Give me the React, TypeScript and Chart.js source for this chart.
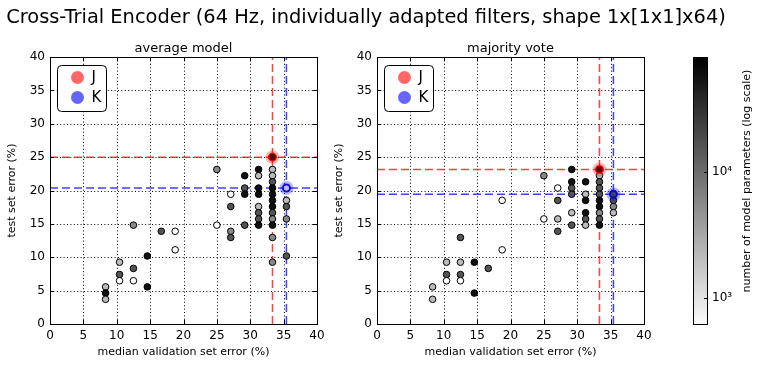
import React, { useEffect, useRef } from "react";
import { Chart, registerables } from "chart.js";

Chart.register(...registerables);

const FONT = "'DejaVu Sans', 'Liberation Sans', sans-serif";

const mainTitle = "Cross-Trial Encoder (64 Hz, individually adapted filters, shape 1x[1x1]x64)";
const xTitle = "median validation set error (%)";
const yTitle = "test set error (%)";
const colorbarTitle = "number of model parameters (log scale)";

const xTicks = [0, 5, 10, 15, 20, 25, 30, 35, 40];
const yTicks = [0, 5, 10, 15, 20, 25, 30, 35, 40];
const colorbarTicks = [1000, 10000];
const colorbarTickLabels = ["10\u00b3", "10\u2074"];
const paramRange = [611, 80900];

// ---- average model ----
const avgVal = [
  12.5, 16.67, 18.75, 18.75, 14.58, 10.42, 12.5, 10.42, 10.42, 12.5, 14.58, 8.33, 8.33, 8.33,
  25, 25, 27.08, 27.08, 27.08, 27.08, 29.17, 29.17, 29.17, 29.17,
  31.25, 31.25, 31.25, 31.25, 31.25, 31.25, 31.25, 31.25,
  33.33, 33.33, 33.33, 33.33, 33.33, 33.33, 33.33, 33.33, 33.33, 33.33, 33.33, 33.33, 33.33,
  35.42, 35.42, 35.42, 35.42, 35.42,
];
const avgErr = [
  14.81, 13.89, 13.89, 11.11, 10.19, 9.26, 8.33, 7.41, 6.48, 6.48, 5.56, 5.56, 4.63, 3.7,
  23.15, 14.81, 19.44, 17.59, 13.89, 12.96, 22.22, 20.37, 19.44, 14.81,
  23.15, 22.22, 20.37, 19.44, 17.59, 16.67, 15.74, 14.81,
  25.0, 23.15, 22.22, 21.3, 20.37, 19.44, 18.52, 17.59, 16.67, 15.74, 14.81, 12.96, 9.26,
  20.37, 18.52, 17.59, 15.74, 10.19,
];
const avgParams = [
  6000, 16000, 600, 600, 60000, 2200, 16000, 16000, 600, 600, 60000, 2200, 60000, 2200,
  6000, 600, 600, 16000, 6000, 16000, 60000, 16000, 60000, 16000,
  60000, 2200, 60000, 60000, 2200, 16000, 16000, 60000,
  60000, 2200, 2200, 16000, 60000, 60000, 60000, 60000, 16000, 6000, 60000, 6000, 6000,
  600, 2200, 16000, 6000, 16000,
];
const avgJ = [33.33, 25.0];
const avgK = [35.42, 20.37];

// ---- majority vote ----
const voteVal = [
  18.75, 18.75, 12.5, 10.42, 12.5, 14.58, 16.67, 10.42, 12.5, 10.42, 12.5, 8.33, 14.58, 8.33,
  25, 25, 27.08, 27.08, 27.08, 27.08,
  29.17, 29.17, 29.17, 29.17, 29.17, 29.17,
  31.25, 31.25, 31.25, 31.25, 31.25, 31.25,
  33.33, 33.33, 33.33, 33.33, 33.33, 33.33, 33.33, 33.33, 33.33, 33.33,
  35.42, 35.42, 35.42, 35.42,
];
const voteErr = [
  18.52, 11.11, 12.96, 9.26, 9.26, 9.26, 8.33, 7.41, 7.41, 6.48, 6.48, 5.56, 4.63, 3.7,
  22.22, 15.74, 20.37, 18.52, 15.74, 13.89,
  23.15, 21.3, 20.37, 19.44, 16.67, 14.81,
  21.3, 19.44, 18.52, 16.67, 15.74, 14.81,
  23.15, 22.22, 21.3, 20.37, 19.44, 18.52, 17.59, 16.67, 15.74, 14.81,
  19.44, 18.52, 17.59, 16.67,
];
const voteParams = [
  600, 600, 16000, 2200, 2200, 60000, 16000, 16000, 16000, 600, 600, 2200, 60000, 2200,
  6000, 600, 600, 16000, 2200, 16000,
  60000, 60000, 16000, 16000, 2200, 16000,
  60000, 2200, 60000, 60000, 16000, 2200,
  60000, 2200, 16000, 16000, 16000, 60000, 60000, 6000, 16000, 60000,
  16000, 16000, 6000, 2200,
];
const voteJ = [33.33, 23.15];
const voteK = [35.42, 19.44];

function grayFor(p: number): string {
  const lo = Math.log10(paramRange[0]);
  const hi = Math.log10(paramRange[1]);
  let f = (Math.log10(p) - lo) / (hi - lo);
  f = Math.max(0, Math.min(1, f));
  const g = Math.round(255 * (1 - f));
  return `rgb(${g},${g},${g})`;
}

function decorPlugin(title: string) {
  return {
    id: "decor",
    beforeDatasetsDraw(chart: any) {
      const { ctx, chartArea: a, scales } = chart;
      const x = scales.x;
      const y = scales.y;
      ctx.save();
      ctx.strokeStyle = "#000";
      ctx.lineWidth = 1;
      ctx.setLineDash([1, 2.4]);
      for (const v of xTicks) {
        if (v === xTicks[0] || v === xTicks[xTicks.length - 1]) continue;
        const px = Math.round(x.getPixelForValue(v)) + 0.5;
        ctx.beginPath();
        ctx.moveTo(px, a.top);
        ctx.lineTo(px, a.bottom);
        ctx.stroke();
      }
      for (const v of yTicks) {
        if (v === yTicks[0] || v === yTicks[yTicks.length - 1]) continue;
        const py = Math.round(y.getPixelForValue(v)) + 0.5;
        ctx.beginPath();
        ctx.moveTo(a.left, py);
        ctx.lineTo(a.right, py);
        ctx.stroke();
      }
      ctx.restore();
    },
    afterDatasetsDraw(chart: any) {
      const { ctx, chartArea: a, scales } = chart;
      const x = scales.x;
      const y = scales.y;
      ctx.save();
      ctx.setLineDash([]);
      ctx.strokeStyle = "#000";
      ctx.lineWidth = 1;
      const tl = 4;
      for (const v of xTicks) {
        const px = Math.round(x.getPixelForValue(v)) + 0.5;
        ctx.beginPath();
        ctx.moveTo(px, a.bottom);
        ctx.lineTo(px, a.bottom - tl);
        ctx.moveTo(px, a.top);
        ctx.lineTo(px, a.top + tl);
        ctx.stroke();
      }
      for (const v of yTicks) {
        const py = Math.round(y.getPixelForValue(v)) + 0.5;
        ctx.beginPath();
        ctx.moveTo(a.left, py);
        ctx.lineTo(a.left + tl, py);
        ctx.moveTo(a.right, py);
        ctx.lineTo(a.right - tl, py);
        ctx.stroke();
      }
      ctx.strokeRect(Math.round(a.left) + 0.5, Math.round(a.top) + 0.5, Math.round(a.right - a.left), Math.round(a.bottom - a.top));
      // legend
      const bx = a.left + 7.5;
      const by = a.top + 8.5;
      ctx.beginPath();
      (ctx as any).roundRect(bx, by, 49, 46, 4);
      ctx.fillStyle = "#fff";
      ctx.fill();
      ctx.stroke();
      const items: [string, string, number][] = [
        ["J", "rgba(255,0,0,0.6)", by + 12],
        ["K", "rgba(0,0,255,0.6)", by + 32],
      ];
      ctx.font = `15px ${FONT}`;
      ctx.textBaseline = "middle";
      ctx.textAlign = "left";
      for (const [label, color, cy] of items) {
        ctx.beginPath();
        ctx.arc(bx + 20, cy, 6.5, 0, Math.PI * 2);
        ctx.fillStyle = color;
        ctx.fill();
        ctx.fillStyle = "#000";
        ctx.fillText(label, bx + 34, cy + 1);
      }
      ctx.font = `13px ${FONT}`;
      ctx.textAlign = "center";
      ctx.textBaseline = "alphabetic";
      ctx.fillStyle = "#000";
      ctx.fillText(title, (a.left + a.right) / 2, a.top - 5);
      ctx.restore();
    },
  };
}

function refLine(x0: number, y0: number, x1: number, y1: number, color: string) {
  return {
    type: "line" as const,
    data: [
      { x: x0, y: y0 },
      { x: x1, y: y1 },
    ],
    borderColor: color,
    borderWidth: 1.5,
    borderDash: [8, 4],
    pointRadius: 0,
    fill: false,
    order: 10,
  };
}

function scatterConfig(val: number[], err: number[], params: number[], J: number[], K: number[], title: string): any {
  const red = "rgba(255,0,0,0.75)";
  const blue = "rgba(0,0,255,0.75)";
  return {
    type: "scatter",
    data: {
      datasets: [
        refLine(xTicks[0], J[1], xTicks[xTicks.length - 1], J[1], red),
        refLine(J[0], yTicks[0], J[0], yTicks[yTicks.length - 1], red),
        refLine(xTicks[0], K[1], xTicks[xTicks.length - 1], K[1], blue),
        refLine(K[0], yTicks[0], K[0], yTicks[yTicks.length - 1], blue),
        {
          type: "scatter",
          data: val.map((v, i) => ({ x: v, y: err[i] })),
          pointBackgroundColor: params.map(grayFor),
          pointBorderColor: "#000",
          pointBorderWidth: 1,
          pointRadius: 3.3,
          order: 3,
        },
        {
          type: "scatter",
          data: [{ x: J[0], y: J[1] }],
          pointBackgroundColor: "rgba(255,0,0,0.28)",
          pointBorderWidth: 0,
          pointRadius: 7,
          order: 2,
        },
        {
          type: "scatter",
          data: [{ x: K[0], y: K[1] }],
          pointBackgroundColor: "rgba(0,0,255,0.28)",
          pointBorderWidth: 0,
          pointRadius: 7,
          order: 2,
        },
        {
          type: "scatter",
          data: [{ x: J[0], y: J[1] }],
          pointBackgroundColor: "rgba(0,0,0,0)",
          pointBorderColor: "rgba(255,0,0,0.9)",
          pointBorderWidth: 1.5,
          pointRadius: 3.8,
          order: 1,
        },
        {
          type: "scatter",
          data: [{ x: K[0], y: K[1] }],
          pointBackgroundColor: "rgba(0,0,0,0)",
          pointBorderColor: "rgba(0,0,255,0.9)",
          pointBorderWidth: 1.5,
          pointRadius: 3.8,
          order: 1,
        },
      ],
    },
    options: {
      responsive: false,
      animation: false,
      devicePixelRatio: 1,
      layout: { padding: { left: 0, right: 13, top: 57, bottom: 0 } },
      plugins: { legend: { display: false }, tooltip: { enabled: false }, title: { display: false } },
      scales: {
        x: {
          type: "linear",
          min: xTicks[0],
          max: xTicks[xTicks.length - 1],
          afterBuildTicks: (s: any) => {
            s.ticks = xTicks.map((v) => ({ value: v }));
          },
          afterFit: (s: any) => {
            s.height = 43;
          },
          ticks: { font: { family: FONT, size: 12 }, color: "#000", padding: 5, maxRotation: 0, autoSkip: false },
          grid: { display: false, drawTicks: false },
          border: { display: false },
          title: { display: true, text: xTitle, font: { family: FONT, size: 11 }, color: "#000", padding: { top: 0, bottom: 8 } },
        },
        y: {
          type: "linear",
          min: yTicks[0],
          max: yTicks[yTicks.length - 1],
          afterBuildTicks: (s: any) => {
            s.ticks = yTicks.map((v) => ({ value: v }));
          },
          afterFit: (s: any) => {
            s.width = 50;
          },
          ticks: { font: { family: FONT, size: 12 }, color: "#000", padding: 5, autoSkip: false },
          grid: { display: false, drawTicks: false },
          border: { display: false },
          title: { display: true, text: yTitle, font: { family: FONT, size: 11 }, color: "#000", padding: { top: 6, bottom: 0 } },
        },
      },
    },
    plugins: [decorPlugin(title)],
  };
}

function colorbarConfig(): any {
  return {
    type: "bar",
    data: {
      labels: ["params"],
      datasets: [
        {
          data: [[paramRange[0], paramRange[1]]],
          backgroundColor: (c: any) => {
            const chart = c.chart;
            const a = chart.chartArea;
            if (!a) return "#888";
            const g = chart.ctx.createLinearGradient(0, a.bottom, 0, a.top);
            g.addColorStop(0, "#fcfcfc");
            g.addColorStop(1, "#000000");
            return g;
          },
          borderWidth: 0,
          barPercentage: 1,
          categoryPercentage: 1,
        },
      ],
    },
    options: {
      responsive: false,
      animation: false,
      devicePixelRatio: 1,
      layout: { padding: { left: 33, right: 0, top: 57, bottom: 42 } },
      plugins: { legend: { display: false }, tooltip: { enabled: false } },
      scales: {
        x: { display: false },
        y: {
          type: "logarithmic",
          position: "right",
          min: paramRange[0],
          max: paramRange[1],
          afterBuildTicks: (s: any) => {
            s.ticks = colorbarTicks.map((v) => ({ value: v }));
          },
          afterFit: (s: any) => {
            s.width = 54;
          },
          ticks: {
            font: { family: FONT, size: 12 },
            color: "#000",
            padding: 4,
            callback: (v: number) => colorbarTickLabels[colorbarTicks.indexOf(v)] ?? "",
          },
          grid: { display: false, drawTicks: false },
          border: { display: false },
        },
      },
    },
    plugins: [
      {
        id: "cbdecor",
        afterDatasetsDraw(chart: any) {
          const { ctx, chartArea: a, scales } = chart;
          ctx.save();
          ctx.strokeStyle = "#000";
          ctx.lineWidth = 1;
          ctx.strokeRect(Math.round(a.left) + 0.5, Math.round(a.top) + 0.5, Math.round(a.right - a.left) - 1, Math.round(a.bottom - a.top) - 1);
          for (const v of colorbarTicks) {
            const py = Math.round(scales.y.getPixelForValue(v)) + 0.5;
            ctx.beginPath();
            ctx.moveTo(a.right - 4, py);
            ctx.lineTo(a.right, py);
            ctx.stroke();
          }
          ctx.translate(a.right + 39, 181);
          ctx.rotate(-Math.PI / 2);
          ctx.font = `11px ${FONT}`;
          ctx.fillStyle = "#000";
          ctx.textAlign = "center";
          ctx.textBaseline = "middle";
          ctx.fillText(colorbarTitle, 0, 0);
          ctx.restore();
        },
      },
    ],
  };
}

export default function App() {
  const leftRef = useRef<HTMLCanvasElement>(null);
  const rightRef = useRef<HTMLCanvasElement>(null);
  const cbRef = useRef<HTMLCanvasElement>(null);

  useEffect(() => {
    const c1 = new Chart(leftRef.current!, scatterConfig(avgVal, avgErr, avgParams, avgJ, avgK, "average model"));
    const c2 = new Chart(rightRef.current!, scatterConfig(voteVal, voteErr, voteParams, voteJ, voteK, "majority vote"));
    const c3 = new Chart(cbRef.current!, colorbarConfig());
    return () => {
      c1.destroy();
      c2.destroy();
      c3.destroy();
    };
  }, []);

  return (
    <div style={{ position: "fixed", left: 0, top: 0, width: 762, height: 367, background: "#fff", overflow: "hidden" }}>
      <canvas ref={leftRef} width={330} height={367} style={{ position: "absolute", left: 0, top: 0, width: 330, height: 367 }} />
      <canvas ref={rightRef} width={330} height={367} style={{ position: "absolute", left: 327, top: 0, width: 330, height: 367 }} />
      <canvas ref={cbRef} width={102} height={367} style={{ position: "absolute", left: 660, top: 0, width: 102, height: 367 }} />
      <div
        style={{
          position: "absolute",
          left: -15,
          top: 5,
          width: 762,
          textAlign: "center",
          fontFamily: "'DejaVu Sans', sans-serif",
          fontSize: 19.4,
          lineHeight: "24px",
          color: "#000",
          whiteSpace: "nowrap",
        }}
      >
        {mainTitle}
      </div>
    </div>
  );
}
